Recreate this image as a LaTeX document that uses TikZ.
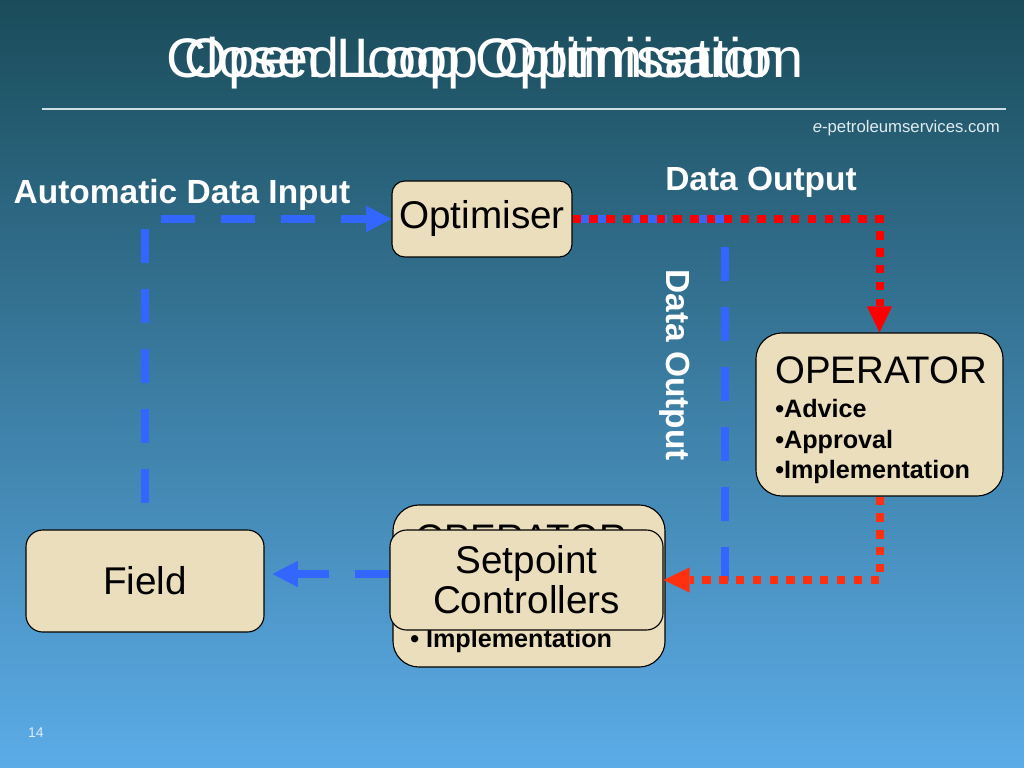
\documentclass[tikz,border=0pt]{standalone}
\usepackage{fontspec}
\setmainfont{Liberation Sans}
\usetikzlibrary{arrows.meta,calc}
\definecolor{slidetop}{RGB}{26,76,90}
\definecolor{slidemid}{RGB}{56,122,170}
\definecolor{slidebot}{RGB}{92,172,232}
\definecolor{parchment}{RGB}{235,222,188}
\definecolor{flowblue}{RGB}{51,102,255}
\definecolor{flowred}{RGB}{255,0,0}
\definecolor{flowredlow}{RGB}{255,48,16}
\definecolor{rulegrey}{RGB}{205,222,228}
\definecolor{smallgrey}{RGB}{225,236,240}
\tikzset{%
  box/.style={draw,line width=0.8pt,fill=parchment,inner sep=0pt,align=center},
  datablue/.style={draw=flowblue,line width=0.2cm,dash pattern=on 0.85cm off 0.65cm},
  datared/.style={draw=flowred,line width=0.2cm,dash pattern=on 0.21cm off 0.21cm},
  bluetip/.style={-{Triangle[length=0.63cm,width=0.66cm,line width=0pt]}},
  redtip/.style={-{Triangle[length=0.65cm,width=0.63cm,line width=0pt]}}%
}

\begin{document}
\begin{tikzpicture}[
    x=0.025cm,
    y=-0.025cm,
    titletext/.style={
        anchor=base,
        inner sep=0pt,
        text=white,
        font=\fontsize{39.6}{46}\selectfont
    },
    boxlabel/.style={
        font=\fontsize{27.5}{28.5}\selectfont
    },
    headtext/.style={
        inner sep=0pt,
        font=\fontsize{27.3}{30}\selectfont
    },
    bullettext/.style={
        inner sep=0pt,
        font=\bfseries\fontsize{17.9}{21}\selectfont
    },
    flowlabel/.style={
        inner sep=0pt,
        text=white,
        font=\bfseries\fontsize{23.8}{28}\selectfont
    }
]

\useasboundingbox (0,0) rectangle (1024,768);
\shade[top color=slidetop, middle color=slidemid, bottom color=slidebot]
    (0,0) rectangle (1024,768);

% slide heading
\node[titletext] (closedtitle) at (485,78) {Closed Loop Optimisation};
\node[titletext] (opentitle) at (485,78) {Open Loop Optimisation};
\draw[rulegrey, line width=1.2pt] (42,109) -- (1006,109);
\node[anchor=base east, inner sep=0pt, text=smallgrey,
      font=\fontsize{11.9}{14}\selectfont] (website) at (1000,133)
{\textit{e}-petroleumservices.com};

\node[box, boxlabel, rounded corners=0.32cm, minimum width=4.5cm,
      minimum height=1.9cm] (optimiser) at (482,219) {Optimiser};

\node[box, rounded corners=0.65cm, minimum width=6.175cm,
      minimum height=4.075cm] (operator) at (879.5,414.5) {};
\node[headtext, anchor=base west] (operatorhead) at (775,383) {OPERATOR};
\node[bullettext, anchor=base west] (operatoradvice) at (775,417)
{\textbullet Advice};
\node[bullettext, anchor=base west] (operatorapproval) at (775,448)
{\textbullet Approval};
\node[bullettext, anchor=base west] (operatorimpl) at (775,478)
{\textbullet Implementation};

% operator box left behind the controllers
\node[box, rounded corners=0.65cm, minimum width=6.8cm,
      minimum height=4.05cm] (operatorback) at (529,586) {};
\node[headtext, anchor=base] (backhead) at (521,551) {OPERATOR};
\node[bullettext, anchor=base west] (backimpl) at (410,647)
{\textbullet\ Implementation};

\node[box, boxlabel, rounded corners=0.42cm, minimum width=6.825cm,
      minimum height=2.5cm] (setpoint) at (526.5,580) {Setpoint\\Controllers};

\node[box, boxlabel, rounded corners=0.42cm, minimum width=5.95cm,
      minimum height=2.55cm] (field) at (145,581) {Field};

\coordinate (bluecorner) at (725,583);

\draw[datablue, bluetip, dash phase=0.85cm] (field.north) |- (optimiser.west);
\draw[datablue] (optimiser.east) -| (bluecorner);
\draw[datablue, bluetip, shorten >=0.2cm] ([yshift=0.15cm]setpoint.west)
    -- ([yshift=0.15cm]setpoint.west -| field.east);

\draw[datared, redtip] (optimiser.east) -| (operator.north);
\draw[datared, draw=flowredlow, redtip] (operator.south) |- (setpoint.east);

\node[flowlabel, anchor=base] (inputlabel) at (182,203) {Automatic Data Input};
\node[flowlabel, anchor=base] (outputlabel) at (761,190) {Data Output};
\node[flowlabel, rotate=-90] (outputside) at (675,365) {Data Output};

\node[anchor=base, inner sep=0pt, text=smallgrey,
      font=\fontsize{10}{12}\selectfont] (pagenum) at (36,737) {14};

\end{tikzpicture}
\end{document}
